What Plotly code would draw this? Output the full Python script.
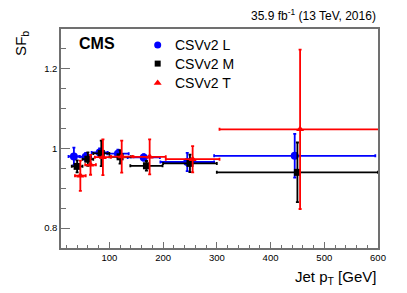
import plotly.graph_objects as go

# ---- data ----
pt_L = [34, 56, 82, 116, 164, 245, 445]
pt_M = [40, 60, 85, 120, 169, 250, 450]
pt_T = [46, 65, 88, 123, 175, 255, 455]
bin_half = [10, 10, 15, 20, 30, 50, 150]

sf_L = [0.980, 0.979, 0.990, 0.987, 0.9775, 0.966, 0.9815]
err_L = [0.022, 0.010, 0.010, 0.010, 0.008, 0.023, 0.055]
sf_M = [0.955, 0.973, 0.9875, 0.979, 0.9565, 0.9625, 0.940]
err_M = [0.015, 0.017, 0.032, 0.017, 0.012, 0.022, 0.075]
sf_T = [0.9315, 0.959, 0.978, 0.9795, 0.979, 0.973, 1.048]
err_T = [0.038, 0.025, 0.045, 0.040, 0.044, 0.033, 0.200]

labels = ["CSVv2 L", "CSVv2 M", "CSVv2 T"]
colors = ["#0000ff", "#000000", "#ff0000"]
symbols = ["circle", "square", "triangle-up"]
sizes = [8, 7, 7]

# legend placement (fractions of the plot area)
leg_mx = 0.305
leg_tx = 0.353
leg_y = [0.927, 0.842, 0.753]

FONT = "Liberation Sans, Arial, sans-serif"

fig = go.Figure()
for name, x, y, e, col, sym, sz in zip(labels, [pt_L, pt_M, pt_T], [sf_L, sf_M, sf_T],
                                       [err_L, err_M, err_T], colors, symbols, sizes):
    fig.add_trace(go.Scatter(
        x=x, y=y, mode="markers", name=name, showlegend=False,
        marker=dict(color=col, symbol=sym, size=sz),
        error_y=dict(type="data", array=e, color=col, thickness=1.8, width=1.5),
        error_x=dict(type="data", array=bin_half, color=col, thickness=1.8, width=1.5),
    ))

# legend symbols on an overlay axis spanning the plot area
for i in range(3):
    fig.add_trace(go.Scatter(
        x=[leg_mx], y=[leg_y[i]], xaxis="x2", yaxis="y2", mode="markers",
        showlegend=False, hoverinfo="skip",
        marker=dict(color=colors[i], symbol=symbols[i], size=[7, 6, 7][i]),
    ))

axis_common = dict(
    showline=True, linecolor="#707070", linewidth=1.5, mirror=True,
    showgrid=False, zeroline=False, ticks="inside", tickcolor="#707070",
    tickfont=dict(family=FONT, size=9.5, color="#000"),
)

fig.update_xaxes(range=[10, 600], tick0=0, dtick=100, ticklen=6,
                 minor=dict(ticks="inside", dtick=20, ticklen=3, tickcolor="#707070"),
                 **axis_common)
fig.update_yaxes(range=[0.75, 1.3], tick0=0.8, dtick=0.2, ticklen=9,
                 minor=dict(ticks="inside", dtick=0.05, ticklen=5, tickcolor="#707070"),
                 **axis_common)

annotations = [
    dict(text="<b>CMS</b>", xref="paper", yref="paper", x=0.05, y=0.936,
         xanchor="left", yanchor="middle", showarrow=False,
         font=dict(family=FONT, size=16)),
    dict(text="35.9 fb<sup>-1</sup> (13 TeV, 2016)", xref="paper", yref="paper",
         x=1, y=1.02, xanchor="right", yanchor="bottom", showarrow=False,
         font=dict(family=FONT, size=12)),
    dict(text="SF<sub>b</sub>", xref="paper", yref="paper", x=-0.125, y=1.0,
         xanchor="center", yanchor="top", textangle=-90, showarrow=False,
         font=dict(family=FONT, size=15)),
    dict(text="Jet p<sub>T</sub> [GeV]", xref="paper", yref="paper", x=1, y=-0.08,
         xanchor="right", yanchor="top", showarrow=False,
         font=dict(family=FONT, size=15)),
]
for i in range(3):
    annotations.append(dict(text=labels[i], xref="paper", yref="paper",
                            x=leg_tx, y=leg_y[i], xanchor="left", yanchor="middle",
                            showarrow=False, font=dict(family=FONT, size=14)))

fig.update_layout(
    width=407, height=293,
    margin=dict(l=61, r=29, t=29, b=45),
    paper_bgcolor="white", plot_bgcolor="white",
    font=dict(family=FONT, color="#000"),
    showlegend=False,
    hovermode=False,
    xaxis2=dict(overlaying="x", range=[0, 1], visible=False, fixedrange=True),
    yaxis2=dict(overlaying="y", range=[0, 1], visible=False, fixedrange=True),
    annotations=annotations,
)

fig.write_html("out.html", config={"displayModeBar": False},
               post_script="document.body.style.margin='0';")
